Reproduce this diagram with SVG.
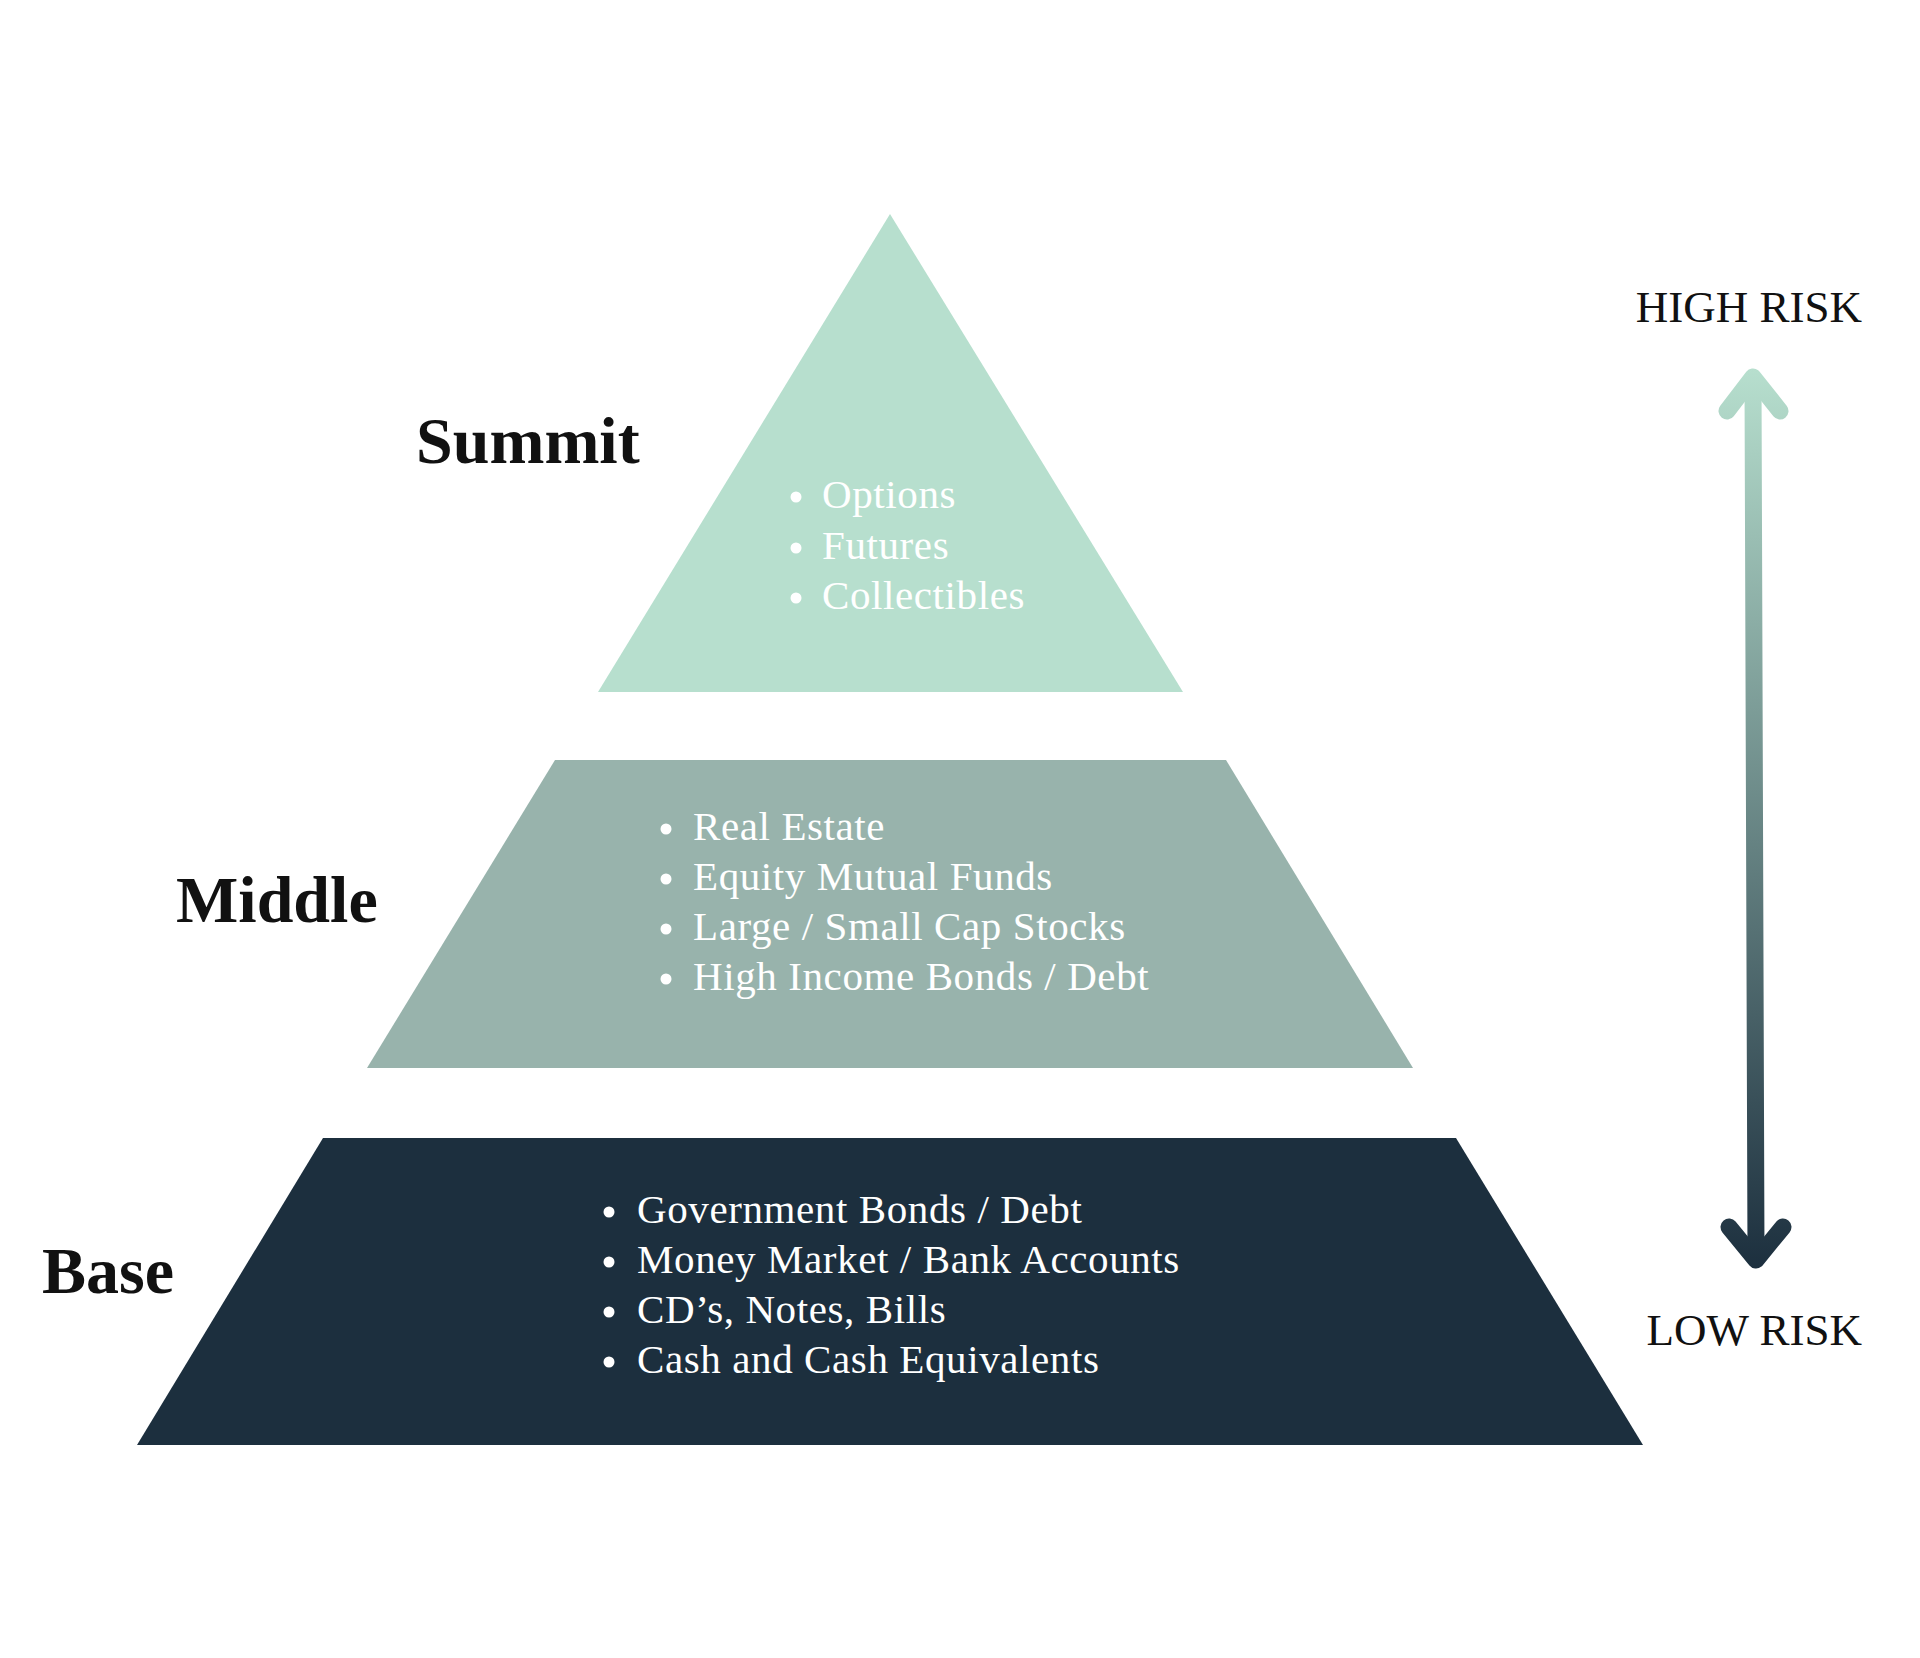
<svg xmlns="http://www.w3.org/2000/svg" width="1920" height="1658" viewBox="0 0 1920 1658">
<style>
.lbl{font-family:"Liberation Serif","Times New Roman",serif;font-weight:bold;font-size:66px;fill:#111111}
.item{font-family:"Liberation Serif","Times New Roman",serif;font-size:41px;letter-spacing:0.6px;fill:#ffffff}
.risk{font-family:"Liberation Serif","Times New Roman",serif;font-size:45px;fill:#111111;text-anchor:end}
.dot{fill:#ffffff}
</style>
<defs>
<linearGradient id="riskGrad" gradientUnits="userSpaceOnUse" x1="0" y1="368" x2="0" y2="1270">
<stop offset="0" stop-color="#B7DFCE"/>
<stop offset="1" stop-color="#1C2F3E"/>
</linearGradient>
</defs>
<rect width="1920" height="1658" fill="#ffffff"/>
<g id="summit">
<polygon points="890,214 1183,692 598,692" fill="#B7DFCE"/>
<text class="lbl" x="416" y="463">Summit</text>
<circle class="dot" cx="796" cy="497" r="5.5"/>
<circle class="dot" cx="796" cy="548" r="5.5"/>
<circle class="dot" cx="796" cy="598" r="5.5"/>
<text class="item" x="822" y="508">Options</text>
<text class="item" x="822" y="559">Futures</text>
<text class="item" x="822" y="609">Collectibles</text>
</g>
<g id="middle">
<polygon points="555,760 1226,760 1413,1068 367,1068" fill="#98B3AC"/>
<text class="lbl" x="176" y="922">Middle</text>
<circle class="dot" cx="666" cy="829" r="5.5"/>
<circle class="dot" cx="666" cy="879" r="5.5"/>
<circle class="dot" cx="666" cy="929" r="5.5"/>
<circle class="dot" cx="666" cy="979" r="5.5"/>
<text class="item" x="693" y="840">Real Estate</text>
<text class="item" x="693" y="890">Equity Mutual Funds</text>
<text class="item" x="693" y="940">Large / Small Cap Stocks</text>
<text class="item" x="693" y="990">High Income Bonds / Debt</text>
</g>
<g id="base">
<polygon points="323,1138 1456,1138 1643,1445 137,1445" fill="#1C2F3E"/>
<text class="lbl" x="42" y="1293">Base</text>
<circle class="dot" cx="609" cy="1212" r="5.5"/>
<circle class="dot" cx="609" cy="1262" r="5.5"/>
<circle class="dot" cx="609" cy="1312" r="5.5"/>
<circle class="dot" cx="609" cy="1362" r="5.5"/>
<text class="item" x="637" y="1223">Government Bonds / Debt</text>
<text class="item" x="637" y="1273">Money Market / Bank Accounts</text>
<text class="item" x="637" y="1323">CD’s, Notes, Bills</text>
<text class="item" x="637" y="1373">Cash and Cash Equivalents</text>
</g>
<g id="risk-labels">
<text class="risk" x="1862" y="322">HIGH RISK</text>
<text class="risk" x="1862" y="1345">LOW RISK</text>
</g>
<g id="connectors" fill="none" stroke="url(#riskGrad)" stroke-width="17" stroke-linecap="round" stroke-linejoin="round">
<path d="M1753,380 L1756,1258"/>
<path d="M1727,411 L1753,377 L1780,411"/>
<path d="M1729,1227 L1756,1260 L1783,1227"/>
</g>
</svg>
